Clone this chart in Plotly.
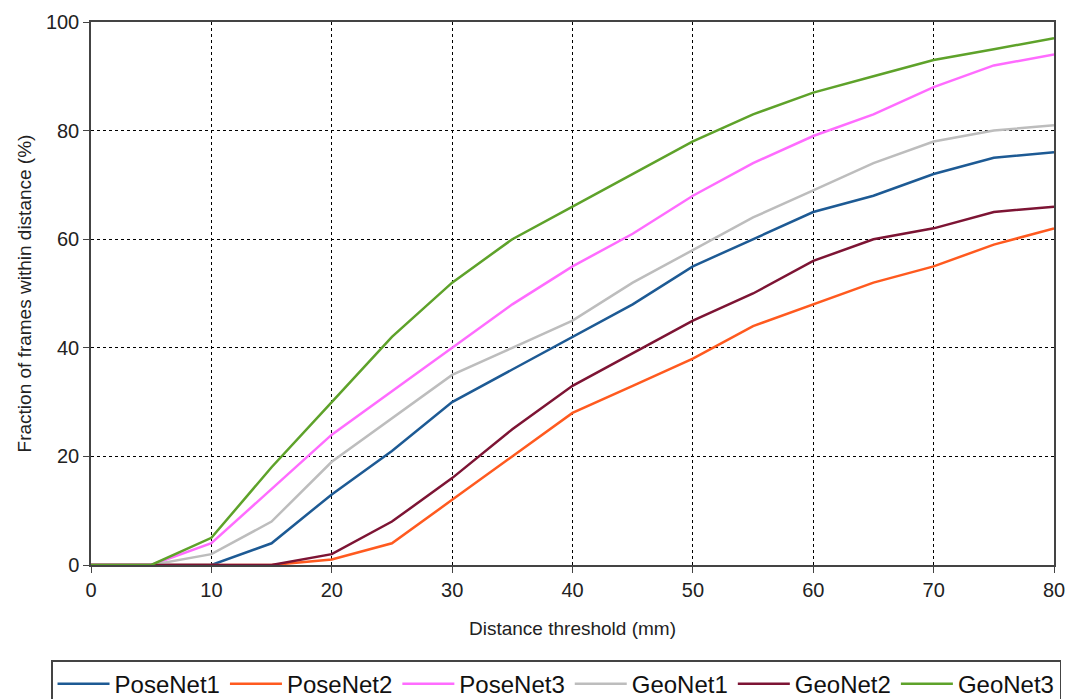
import plotly.graph_objects as go

x_mm = [0, 5, 10, 15, 20, 25, 30, 35, 40, 45, 50, 55, 60, 65, 70, 75, 80]
posenet1 = [0, 0, 0, 4, 13, 21, 30, 36, 42, 48, 55, 60, 65, 68, 72, 75, 76]
posenet2 = [0, 0, 0, 0, 1, 4, 12, 20, 28, 33, 38, 44, 48, 52, 55, 59, 62]
posenet3 = [0, 0, 4, 14, 24, 32, 40, 48, 55, 61, 68, 74, 79, 83, 88, 92, 94]
geonet1 = [0, 0, 2, 8, 19, 27, 35, 40, 45, 52, 58, 64, 69, 74, 78, 80, 81]
geonet2 = [0, 0, 0, 0, 2, 8, 16, 25, 33, 39, 45, 50, 56, 60, 62, 65, 66]
geonet3 = [0, 0, 5, 18, 30, 42, 52, 60, 66, 72, 78, 83, 87, 90, 93, 95, 97]

series = [
    ("PoseNet1", posenet1, "#1d5a94"),
    ("PoseNet2", posenet2, "#ff5a1f"),
    ("PoseNet3", posenet3, "#ff6cff"),
    ("GeoNet1", geonet1, "#bdbdbd"),
    ("GeoNet2", geonet2, "#7d1434"),
    ("GeoNet3", geonet3, "#5ea22a"),
]

FONT = "Liberation Sans"

fig = go.Figure()
for name, ys, col in series:
    fig.add_trace(go.Scatter(x=x_mm, y=ys, name=name, mode="lines",
                             line=dict(color=col, width=2.5)))

axis_common = dict(
    showline=True, linecolor="#444", linewidth=1.5, mirror=True,
    ticks="outside", ticklen=6, tickcolor="#444",
    showgrid=True, gridcolor="black", griddash="dot", gridwidth=1,
    zeroline=False,
    tickfont=dict(family=FONT, size=20, color="#222"),
    title_font=dict(family=FONT, size=19, color="#222"),
)

fig.update_xaxes(range=[0, 80], dtick=10, title_text="Distance threshold (mm)",
                 title_standoff=22, **axis_common)
fig.update_yaxes(range=[0, 100], dtick=20, title_text="Fraction of frames within distance (%)",
                 title_standoff=9, **axis_common)

fig.update_layout(
    width=1071, height=699,
    margin=dict(l=91, r=17, t=22, b=134, autoexpand=False),
    paper_bgcolor="white", plot_bgcolor="white",
    legend=dict(orientation="h", x=-0.0415, xanchor="left", y=-0.175, yanchor="top",
                bordercolor="#444", borderwidth=1.5,
                font=dict(family=FONT, size=24, color="#111"),
                itemwidth=52, tracegroupgap=0),
    showlegend=True,
)

fig.write_html("out.html")
